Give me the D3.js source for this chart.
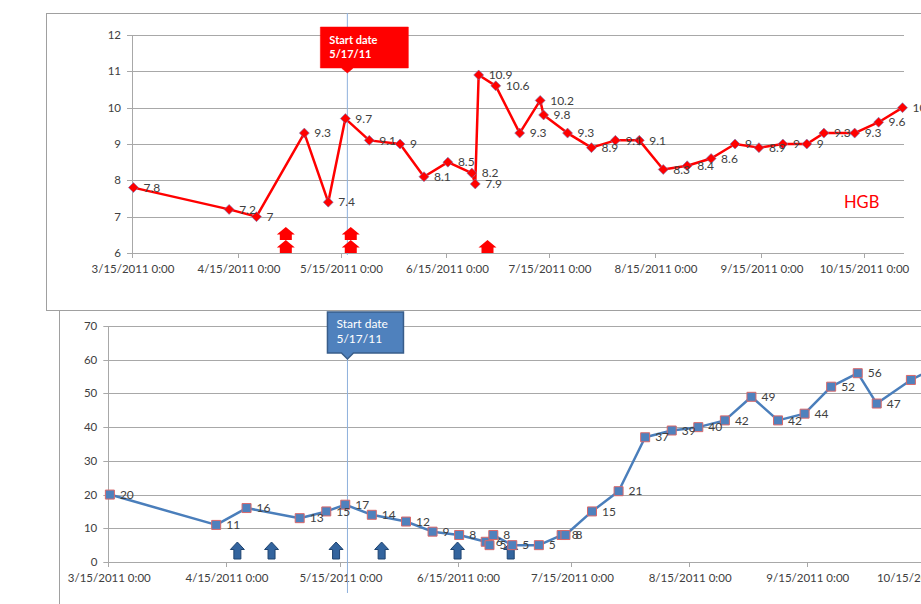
<!DOCTYPE html>
<html>
<head>
<meta charset="utf-8">
<script src="https://cdn.jsdelivr.net/npm/d3@7"></script>
<style>
  html, body { margin: 0; padding: 0; background: #fff; }
  svg { display: block; font-family: Lato, "Open Sans", sans-serif; }
</style>
</head>
<body>
<svg id="chart" width="921" height="604"></svg>
<script>
// Weekly morning lab draws (shared by both panels)
const drawDates = ["2011-03-15","2011-04-12","2011-04-20","2011-05-04","2011-05-11","2011-05-16",
  "2011-05-23","2011-06-01","2011-06-08","2011-06-15","2011-06-22","2011-06-23","2011-06-24",
  "2011-06-29","2011-07-06","2011-07-12","2011-07-13","2011-07-20","2011-07-27","2011-08-03",
  "2011-08-10","2011-08-17","2011-08-24","2011-08-31","2011-09-07","2011-09-14","2011-09-21",
  "2011-09-28","2011-10-03","2011-10-12","2011-10-19","2011-10-26"];
const drawTime = "10:00";

// Hemoglobin (upper panel)
const hgbValues = [7.8,7.2,7,9.3,7.4,9.7,9.1,9,8.1,8.5,8.2,7.9,10.9,10.6,9.3,10.2,9.8,9.3,8.9,
  9.1,9.1,8.3,8.4,8.6,9,8.9,9,9,9.3,9.3,9.6,10];

// Platelet-style count (lower panel)
const lowerValues = [20,11,16,13,15,17,14,12,9,8,6,5,8,5,5,8,8,15,21,37,39,40,42,49,42,44,52,
  56,47,54,58,60];

// Axis ticks
const xTickDates = ["2011-03-15","2011-04-15","2011-05-15","2011-06-15","2011-07-15",
  "2011-08-15","2011-09-15","2011-10-15"];
const hgbTicks = [6,7,8,9,10,11,12];
const lowerTicks = [0,10,20,30,40,50,60,70];

// Start of treatment
const startDate = "2011-05-17";
const startLines = ["Start date", "5/17/11"];

// Dose markers: dates and stacked arrow count (upper), single arrows (lower)
const hgbDoseDates = ["2011-04-29","2011-05-18","2011-06-27"];
const hgbDoseCounts = [2,2,1];
const lowerDoseDates = ["2011-04-18","2011-04-27","2011-05-14","2011-05-26","2011-06-15","2011-06-29"];

const parse = d3.timeParse("%Y-%m-%d");
const parseDT = d3.timeParse("%Y-%m-%d %H:%M");
const fmtTick = d => d3.timeFormat("%-m/%-d/%Y")(d) + " 0:00";
const svg = d3.select("#chart");
const GRID = "#a8a8a8", TEXT = "#404040";

// Frames
svg.append("rect").attr("x", 46.5).attr("y", 13.5).attr("width", 900).attr("height", 297)
  .attr("fill", "none").attr("stroke", "#a0a0a0");
svg.append("line").attr("x1", 59.5).attr("x2", 59.5).attr("y1", 311).attr("y2", 604)
  .attr("stroke", "#a0a0a0");

function upArrow(cx, tipY, headH, headW, totalH, stemW) {
  return `M${cx},${tipY} L${cx + headW/2},${tipY + headH} L${cx + stemW/2},${tipY + headH}` +
    ` L${cx + stemW/2},${tipY + totalH} L${cx - stemW/2},${tipY + totalH}` +
    ` L${cx - stemW/2},${tipY + headH} L${cx - headW/2},${tipY + headH} Z`;
}

function panel(cfg) {
  const g = svg.append("g");
  const x = d3.scaleTime().domain([parse("2011-03-15"), parse("2011-10-15")]).range(cfg.xRange);
  const y = d3.scaleLinear().domain(cfg.yDomain).range(cfg.yRange);
  const [left] = cfg.xRange;

  // gridlines
  g.append("g").selectAll("line").data(cfg.yTicks).join("line")
    .attr("x1", left - 5).attr("x2", cfg.right)
    .attr("y1", d => Math.round(y(d)) + 0.5).attr("y2", d => Math.round(y(d)) + 0.5)
    .attr("stroke", GRID);
  // y axis
  g.append("line").attr("x1", Math.round(left) + 0.5).attr("x2", Math.round(left) + 0.5)
    .attr("y1", cfg.yRange[1]).attr("y2", cfg.yRange[0]).attr("stroke", GRID);
  g.append("g").selectAll("text").data(cfg.yTicks).join("text")
    .attr("x", left - 11).attr("y", d => y(d)).attr("dy", "0.35em")
    .attr("text-anchor", "end").attr("font-size", 11.5).attr("fill", TEXT).text(d => d);
  // x axis ticks and labels
  const xt = xTickDates.map(parse);
  g.append("g").selectAll("line").data(xt).join("line")
    .attr("x1", d => Math.round(x(d)) + 0.5).attr("x2", d => Math.round(x(d)) + 0.5)
    .attr("y1", cfg.yRange[0]).attr("y2", cfg.yRange[0] + 5).attr("stroke", GRID);
  g.append("g").selectAll("text").data(xt).join("text")
    .attr("x", d => x(d) + 1).attr("y", cfg.yRange[0] + 16).attr("dy", "0.35em")
    .attr("text-anchor", "middle").attr("font-size", 11.5).attr("fill", TEXT).text(fmtTick);

  // start-date line
  const sx = x(parse(startDate));
  g.append("line").attr("x1", sx).attr("x2", sx).attr("y1", cfg.startLine[0]).attr("y2", cfg.startLine[1])
    .attr("stroke", "#8eb0dc").attr("stroke-width", 1);

  // dose arrows
  cfg.doses.forEach(dz => {
    const cx = x(parse(dz.date));
    for (let i = 0; i < dz.count; i++) {
      const bottom = cfg.arrow.bottom - i * cfg.arrow.h;
      g.append("path").attr("d", upArrow(cx, bottom - cfg.arrow.h, cfg.arrow.headH, cfg.arrow.headW,
          cfg.arrow.h, cfg.arrow.stemW))
        .attr("fill", cfg.arrow.fill).attr("stroke", cfg.arrow.stroke || "none").attr("stroke-width", 1);
    }
  });

  // series
  const pts = drawDates.map((d, i) => ({ date: parseDT(d + " " + drawTime), v: cfg.values[i] }));
  g.append("path").datum(pts)
    .attr("d", d3.line().x(d => x(d.date)).y(d => y(d.v)))
    .attr("fill", "none").attr("stroke", cfg.lineColor).attr("stroke-width", 2.5)
    .attr("stroke-linejoin", "round");
  g.append("g").selectAll("path").data(pts).join("path")
    .attr("transform", d => `translate(${x(d.date)},${y(d.v)})`)
    .attr("d", cfg.marker).attr("fill", cfg.markerFill)
    .attr("stroke", cfg.markerStroke).attr("stroke-width", cfg.markerStrokeW);
  g.append("g").selectAll("text").data(pts).join("text")
    .attr("x", d => x(d.date) + 10).attr("y", d => y(d.v)).attr("dy", "0.35em")
    .attr("font-size", 12).attr("fill", TEXT).text(d => d.v);

  // callout
  const c = cfg.callout;
  const l = sx + c.dl, r = sx + c.dr;
  g.append("path")
    .attr("d", `M${l},${c.top} H${r} V${c.bottom} H${sx + 6} L${sx},${c.tip} L${sx - 6},${c.bottom} H${l} Z`)
    .attr("fill", c.fill).attr("stroke", c.stroke).attr("stroke-width", c.strokeW);
  g.append("g").selectAll("text").data(startLines).join("text")
    .attr("x", l + c.padX).attr("y", (d, i) => c.top + c.line1 + i * c.lineGap)
    .attr("font-size", c.fontSize).attr("font-weight", c.bold ? "bold" : "normal")
    .attr("fill", "#fff").text(d => d);
  return { x, y, g };
}

// Upper panel: HGB
const hgbPanel = panel({
  xRange: [132, 863.5], right: 904, yDomain: [6, 12], yRange: [253, 35], yTicks: hgbTicks,
  values: hgbValues, lineColor: "#ff0000",
  marker: "M0,-5 L5,0 L0,5 L-5,0 Z", markerFill: "#ff0000", markerStroke: "#6f7fc0", markerStrokeW: 0.6,
  startLine: [13, 255],
  doses: hgbDoseDates.map((d, i) => ({ date: d, count: hgbDoseCounts[i] })),
  arrow: { bottom: 253, h: 13, headH: 7.5, headW: 18, stemW: 12, fill: "#ff0000" },
  callout: { dl: -27, dr: 61, top: 27, bottom: 68, tip: 73, fill: "#ff0000", stroke: "#ff0000", strokeW: 0.5,
    padX: 9, line1: 17, lineGap: 14, fontSize: 11, bold: true }
});
hgbPanel.g.append("text").attr("x", 844).attr("y", 202).attr("dy", "0.35em")
  .attr("font-size", 16.5).attr("fill", "#ff0000").text("HGB");

// Lower panel
panel({
  xRange: [108.3, 920.7], right: 930, yDomain: [0, 70], yRange: [562, 326], yTicks: lowerTicks,
  values: lowerValues, lineColor: "#4a7ebb",
  marker: "M-4.5,-4.5 H4.5 V4.5 H-4.5 Z", markerFill: "#4f81bd", markerStroke: "#d9686a", markerStrokeW: 1,
  startLine: [359, 593],
  doses: lowerDoseDates.map(d => ({ date: d, count: 1 })),
  arrow: { bottom: 559, h: 17, headH: 7.5, headW: 14, stemW: 7, fill: "#33649e", stroke: "#1f4470" },
  callout: { dl: -20, dr: 56, top: 312, bottom: 353, tip: 359, fill: "#4f81bd", stroke: "#385d8a", strokeW: 1.5,
    padX: 9, line1: 16, lineGap: 15, fontSize: 12, bold: false }
});
</script>
</body>
</html>
